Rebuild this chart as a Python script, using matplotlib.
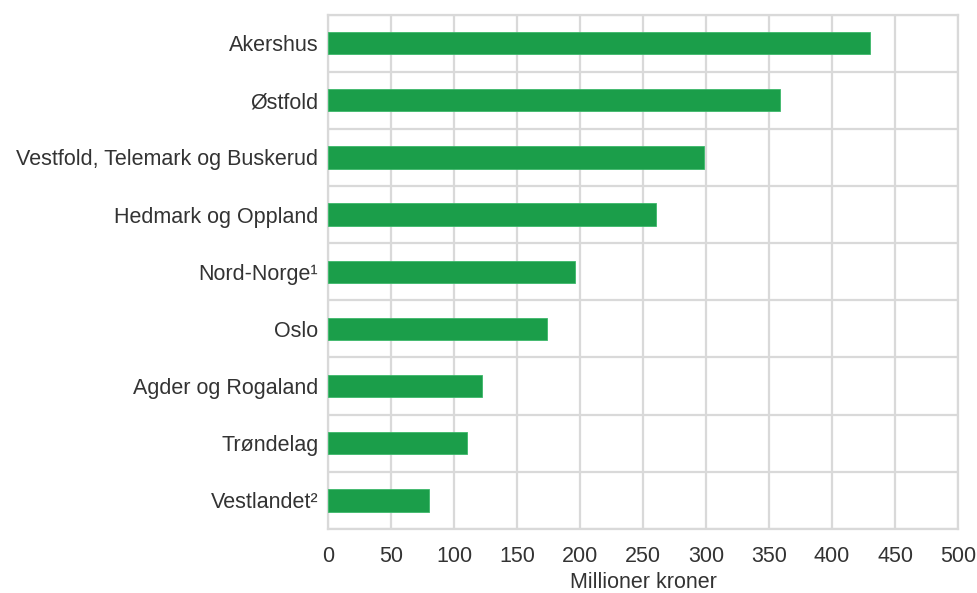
import matplotlib
matplotlib.use("Agg")
import matplotlib.pyplot as plt
import numpy as np

regions = ["Akershus", "Østfold", "Vestfold, Telemark og Buskerud",
           "Hedmark og Oppland", "Nord-Norge¹", "Oslo", "Agder og Rogaland",
           "Trøndelag", "Vestlandet²"]
values = [430, 359, 298, 260, 196, 174, 122, 110, 80]
xticks = [0, 50, 100, 150, 200, 250, 300, 350, 400, 450, 500]

plt.rcParams['font.family'] = ['Liberation Sans', 'DejaVu Sans']

def main():
  fig = plt.figure(figsize=(9.77, 5.93), dpi=100)
  ax = fig.add_axes([0.3357, 0.108, 0.645, 0.8675])

  y = np.arange(len(regions))
  ax.barh(y, values, height=0.39, color="#1b9e4a", edgecolor="#3cb86a",
          linewidth=0.6, zorder=3)

  ax.set_ylim(len(regions) - 0.5, -0.5)
  ax.set_xlim(0, 500)
  ax.set_yticks(y)
  ax.set_yticklabels(regions)
  ax.set_yticks(np.arange(-0.5, len(regions), 1), minor=True)
  ax.set_xticks(xticks)
  ax.set_xticklabels([str(t) for t in xticks])

  ax.grid(True, axis="x", which="major", color="#d9d9d9", linewidth=1.6, zorder=0)
  ax.grid(True, axis="y", which="minor", color="#d9d9d9", linewidth=1.6, zorder=0)
  ax.grid(False, axis="y", which="major")

  for s in ax.spines.values():
    s.set_color("#d9d9d9")
    s.set_linewidth(1.6)

  ax.tick_params(axis="both", which="both", length=0, labelsize=15.5,
                 labelcolor="#333333")
  ax.tick_params(axis="y", pad=7)
  ax.tick_params(axis="x", pad=12)
  ax.set_xlabel("Millioner kroner", fontsize=15.5, color="#333333", labelpad=4)

  fig.savefig("out.png", dpi=100)


if __name__ == "__main__":

  main()
